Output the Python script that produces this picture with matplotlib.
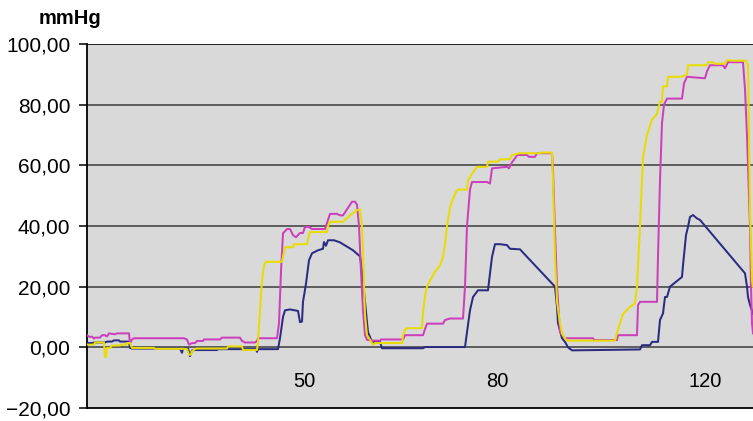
import matplotlib
matplotlib.use("Agg")
import matplotlib.pyplot as plt

plt.rcParams['font.family'] = ['Liberation Sans', 'DejaVu Sans']

# sample index along the recording, pressure in mmHg
navy_t = [0, 5, 7, 18, 20, 25, 27, 32, 33, 42, 43, 45, 93, 95, 96, 101, 103, 105, 108, 130,
          131, 169, 170, 171, 191, 193, 196, 198, 203, 211, 213, 215, 216, 219, 222, 225, 231,
          236, 237, 239, 241, 247, 253, 261, 266, 273, 275, 278, 281, 285, 293, 295, 336, 338,
          378, 380, 383, 386, 391, 401, 403, 405, 408, 413, 420, 423, 433, 468, 470, 471, 475,
          478, 481, 485, 553, 555, 563, 565, 571, 573, 576, 578, 580, 583, 595, 596, 599, 601,
          603, 606, 610, 613, 658, 660, 661, 663, 666]
navy_v = [1.4, 1.4, 1.6, 1.6, 1.9, 1.9, 2.3, 2.3, 1.9, 1.9, -0.2, -0.4, -0.4, -1.8, -0.4, -0.4,
          -2.9, -1.0, -0.9, -0.9, -0.6, -0.6, -1.5, -0.6, -0.6, 3, 10, 12.2, 12.5, 12, 8.3, 8.5,
          15, 21, 28.7, 31, 32, 32.5, 34.7, 33.5, 35.3, 35.3, 34.6, 33, 32, 30, 25, 15, 5, 1.8,
          1.8, -0.3, -0.3, 0.1, 0.1, 5, 12.2, 16.6, 18.8, 18.8, 24.4, 29.8, 34, 34, 33.7, 32.5,
          32.3, 20, 13.5, 8, 3, 1.8, 0, -1, -0.7, 0.7, 0.7, 1.8, 1.8, 9, 11.2, 16.6, 16.6, 20,
          23.2, 27, 37, 39.7, 43, 43.6, 42.5, 42, 24.4, 20, 16.6, 14, 11]

magenta_t = [0, 2, 5, 7, 8, 13, 15, 18, 20, 22, 28, 30, 42, 43, 45, 47, 97, 100, 102, 105, 108,
             110, 116, 117, 133, 135, 153, 155, 158, 168, 170, 171, 190, 192, 194, 196, 200, 203,
             206, 209, 213, 216, 218, 222, 225, 238, 240, 243, 250, 253, 256, 261, 265, 268, 270,
             272, 274, 276, 278, 280, 285, 293, 294, 316, 318, 336, 338, 340, 356, 358, 363, 376,
             378, 380, 383, 385, 400, 403, 405, 420, 422, 425, 428, 430, 440, 442, 448, 450, 465,
             466, 468, 470, 473, 478, 506, 507, 530, 531, 550, 551, 553, 570, 571, 573, 575, 577,
             580, 595, 597, 600, 618, 620, 623, 636, 638, 641, 656, 658, 660, 661, 663, 664, 665,
             666]
magenta_v = [4, 3.5, 3.5, 2.9, 3.2, 3.2, 4, 4, 3.6, 4.6, 4.3, 4.6, 4.6, 1.3, 2.6, 3, 3, 2.6,
             0.9, 1.4, 1.4, 2.1, 2.1, 2.6, 2.6, 3.2, 3.2, 2.1, 1.6, 1.6, 2.1, 3.0, 3.0, 8, 25,
             37.6, 39, 39, 37, 36.3, 37.7, 37.7, 39.7, 39.7, 39, 39, 41, 44, 44, 43.5, 43.5, 46,
             48, 48, 47, 40, 25, 12, 4, 2.5, 2.2, 2.2, 2.6, 2.6, 4, 4, 6, 7.8, 7.8, 9, 9.5, 9.5,
             20, 40, 52, 54.5, 54.5, 54, 59, 59.5, 59, 61, 62.3, 63.4, 63.4, 62.8, 62.8, 64, 64,
             58, 38, 20, 5, 3, 3, 2.4, 2.4, 4, 4, 13.9, 15, 15, 30, 55, 74, 80, 82, 82, 87, 89.2,
             88.7, 91, 93, 93, 92, 94, 94, 85, 70, 60, 40, 20, 8, 4.6]

yellow_t = [0, 7, 8, 17, 18, 19, 20, 23, 25, 33, 34, 39, 40, 43, 45, 67, 68, 97, 100, 102, 104,
            105, 108, 110, 140, 141, 155, 156, 170, 171, 173, 175, 177, 179, 195, 196, 198, 206,
            207, 220, 221, 223, 240, 241, 243, 256, 263, 270, 273, 275, 276, 278, 280, 283, 286,
            288, 315, 316, 318, 320, 335, 336, 338, 340, 343, 348, 353, 356, 358, 360, 363, 366,
            369, 371, 380, 381, 386, 390, 400, 401, 411, 413, 423, 425, 433, 453, 455, 465, 466,
            468, 470, 473, 475, 478, 480, 528, 530, 533, 536, 543, 548, 550, 553, 555, 556, 560,
            565, 570, 573, 575, 576, 580, 581, 595, 600, 601, 620, 621, 626, 628, 638, 640, 645,
            659, 661, 662, 663, 665, 666]
yellow_v = [0.9, 0.9, 1.6, 1.6, -3.2, -3.2, -0.2, -0.2, 0.6, 0.6, 0.9, 0.9, 1.4, 1.4, -0.2,
            -0.2, -0.5, -0.5, -0.6, -2.4, -2.4, -1.3, -0.6, -0.4, -0.4, 0.3, 0.3, -0.9, -0.9, 2,
            12, 22, 27, 28.2, 28.2, 30, 33, 33, 34, 34, 36, 38, 38, 40, 41.4, 41.4, 43.5, 45.2,
            45.5, 40, 30, 11, 4, 2.5, 0.9, 1.4, 1.4, 4, 5.8, 6.3, 6.3, 11.4, 17, 20, 22, 25, 27,
            29.8, 34, 40, 46, 49, 51.2, 52, 52, 55, 57.8, 59.5, 59.5, 61.2, 61.2, 62, 62, 63.4,
            64, 64, 64.2, 64.2, 55, 30, 15, 8, 4.5, 3, 2.2, 2.2, 4.6, 8, 11, 13.3, 14.5, 20, 40,
            55, 62.8, 70, 75, 77, 81, 81, 86, 86, 89.2, 89.2, 90, 93, 93, 94, 94, 93.5, 93.5,
            94.7, 94.5, 94.5, 93, 70, 45, 22, 20]

tick_pos = [217, 410, 618]
tick_labels = ['50', '80', '120']
y_ticks = [-20, 0, 20, 40, 60, 80, 100]

fig = plt.figure(figsize=(7.53, 4.21), dpi=100)
ax = fig.add_axes([87 / 753, 1 - 408 / 421, 666 / 753, 364 / 421])
ax.set_facecolor('#d9d9d9')

for y in y_ticks[1:-1]:
    ax.axhline(y, color='#3c3c3c', lw=1.1, zorder=1)
ax.axhline(100, color='black', lw=1.2, zorder=1)

ax.plot(navy_t, navy_v, color='#2b2b82', lw=1.45, zorder=3)
ax.plot(magenta_t, magenta_v, color='#cc40bc', lw=1.45, zorder=4)
ax.plot(yellow_t, yellow_v, color='#e8dc00', lw=1.45, zorder=5)

ax.set_xlim(0, 666)
ax.set_ylim(-20, 100)
ax.set_yticks(y_ticks)
ax.set_yticklabels([f"{v:.2f}".replace('.', ',').replace('-', '\u2212') for v in y_ticks],
                   fontsize=15)
ax.tick_params(axis='y', direction='out', length=6, width=1.1, pad=6, color='black')
ax.set_xticks([])

for p, lab in zip(tick_pos, tick_labels):
    ax.text(p, -13.1, lab, ha='center', va='baseline', fontsize=14.5)

for s in ['top', 'right']:
    ax.spines[s].set_visible(False)
ax.spines['left'].set_linewidth(1.3)
ax.spines['bottom'].set_linewidth(1.3)

fig.text(39 / 753, 1 - 24 / 421, 'mmHg', fontsize=14.5, fontweight='bold', va='baseline')

fig.savefig('out.png', dpi=100)
